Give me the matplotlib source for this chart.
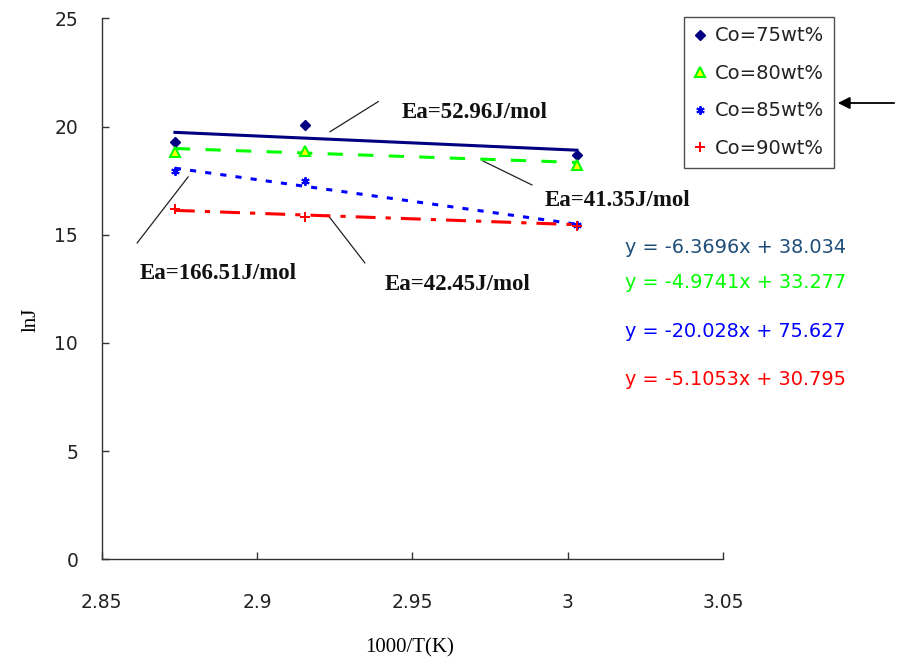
import numpy as np
import matplotlib
matplotlib.use("Agg")
import matplotlib.pyplot as plt
from matplotlib.lines import Line2D

# Arrhenius data: ln J against 1000/T for four cobalt contents
temps_K = [348, 343, 333]
x_vals = [1000.0 / t for t in temps_K]

labels = ["Co=75wt%", "Co=80wt%", "Co=85wt%", "Co=90wt%"]
lnj_75 = [19.30, 20.07, 18.68]
lnj_80 = [18.84, 18.88, 18.22]
lnj_85 = [17.96, 17.48, 15.46]
lnj_90 = [16.17, 15.80, 15.40]

# linear trend lines (slope, intercept)
slopes = [-6.3696, -4.9741, -20.028, -5.1053]
intercepts = [38.034, 33.277, 75.627, 30.795]
activation = ["52.96", "41.35", "166.51", "42.45"]

series = [lnj_75, lnj_80, lnj_85, lnj_90]
line_colors = ["#000080", "#00FF00", "#0000FF", "#FF0000"]
eq_colors = ["#1F4E79", "#00FF00", "#0000FF", "#FF0000"]
dash_styles = ["-", (0, (5, 5)), (0, (2, 3)), (0, (6.5, 3.3, 1.7, 3.3))]
markers = [
    dict(marker="D", markersize=5.5, markerfacecolor="#000080", markeredgecolor="#000080"),
    dict(marker="^", markersize=7, markerfacecolor="#FFFF00", markeredgecolor="#00FF00", markeredgewidth=1.5),
    dict(marker=(6, 2, 0), markersize=6, markerfacecolor="#0000FF", markeredgecolor="#0000FF", markeredgewidth=1.4),
    dict(marker="+", markersize=7, markerfacecolor="#FF0000", markeredgecolor="#FF0000", markeredgewidth=1.4),
]

fig = plt.figure(figsize=(8.98, 6.61), dpi=100)
ax = fig.add_axes([0.1133, 0.1538, 0.6918, 0.8185])

handles = []
for vals, col, ls, mk, lab, m, b in zip(series, line_colors, dash_styles, markers, labels, slopes, intercepts):
    xs = np.array([min(x_vals), max(x_vals)])
    ax.plot(xs, m * xs + b, color=col, linestyle=ls, linewidth=2.2, zorder=2)
    ax.plot(x_vals, vals, linestyle="none", zorder=3, **mk)
    handles.append(Line2D([], [], linestyle="none", label=lab, **mk))

ax.set_xlim(2.85, 3.05)
ax.set_ylim(0, 25)
ax.set_xticks([2.85, 2.9, 2.95, 3.0, 3.05])
ax.set_xticklabels(["2.85", "2.9", "2.95", "3", "3.05"])
ax.set_yticks([0, 5, 10, 15, 20, 25])

for s in ["top", "right"]:
    ax.spines[s].set_visible(False)
for s in ["left", "bottom"]:
    ax.spines[s].set_color("#333333")
    ax.spines[s].set_linewidth(1.0)

ax.tick_params(axis="both", direction="in", length=5, width=1, color="#333333",
               labelsize=13.5, labelcolor="#222222")
ax.tick_params(axis="x", pad=24)
ax.tick_params(axis="y", pad=17)
for lbl in ax.get_xticklabels() + ax.get_yticklabels():
    lbl.set_fontfamily("DejaVu Sans")

serif = "Liberation Serif"
ax.set_xlabel("1000/T(K)", fontsize=15, family=serif)
ax.xaxis.label.set_va("center")
ax.xaxis.set_label_coords(0.496, -0.164)
ax.set_ylabel("lnJ", fontsize=15, family=serif)
ax.yaxis.label.set_va("center")
ax.yaxis.set_label_coords(-0.1135, 0.442)

# activation energy callouts with leader lines
callouts = [
    (activation[0], (2.9467, 20.66), (2.9235, 19.76), (2.939, 21.15)),
    (activation[1], (2.9927, 16.60), (2.9727, 18.41), (2.9885, 17.30)),
    (activation[2], (2.8623, 13.23), (2.8778, 17.67), (2.8614, 14.62)),
    (activation[3], (2.9412, 12.68), (2.9228, 15.91), (2.9347, 13.70)),
]
for ea, tpos, p0, p1 in callouts:
    ax.text(tpos[0], tpos[1], f"Ea={ea}J/mol", fontsize=16.5, fontweight="bold",
            family=serif, ha="left", va="center", color="#111111")
    ax.plot([p0[0], p1[0]], [p0[1], p1[1]], color="#222222", linewidth=0.9, zorder=1)

# trend-line equations
eq_y = [14.39, 12.77, 10.51, 8.33]
for m, b, c, yy in zip(slopes, intercepts, eq_colors, eq_y):
    ax.text(3.0185, yy, f"y = {m}x + {b}", color=c, fontsize=13.9,
            family="DejaVu Sans", ha="left", va="center", clip_on=False)

leg = ax.legend(handles=handles, loc="upper left",
                bbox_to_anchor=(684 / 898, 1 - 16.7 / 661),
                bbox_transform=fig.transFigure, borderaxespad=0,
                prop={"family": "DejaVu Sans", "size": 14},
                frameon=True, fancybox=False, edgecolor="#222222",
                handlelength=0.6, handletextpad=0.5, labelspacing=0.95,
                borderpad=0.5)
leg.get_frame().set_linewidth(1.0)
for t in leg.get_texts():
    t.set_color("#222222")

# arrow pointing at the legend
fig.add_artist(matplotlib.patches.FancyArrowPatch(
    (897 / 898, 1 - 103 / 661), (835 / 898, 1 - 103 / 661),
    transform=fig.transFigure, arrowstyle="-|>", mutation_scale=18,
    color="black", linewidth=1.3))

fig.savefig("out.png", dpi=100)
